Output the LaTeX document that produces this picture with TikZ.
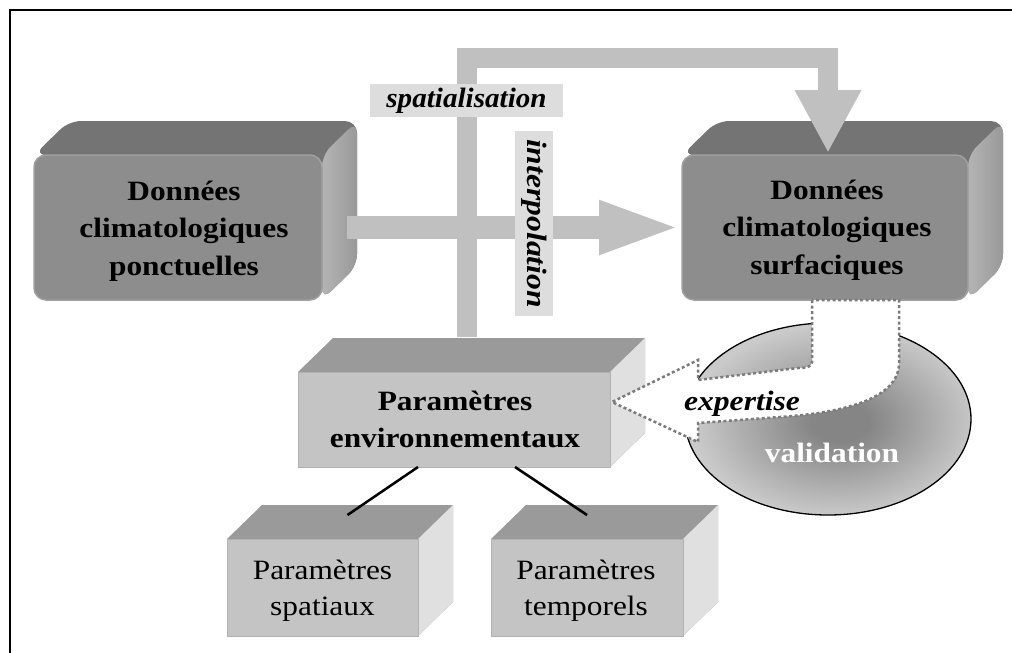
\documentclass[tikz,border=0pt]{standalone}
\usepackage{fontspec}
\usepackage{graphicx}
\setmainfont{Liberation Serif}
\usetikzlibrary{calc,arrows.meta,shapes.geometric,backgrounds}
\definecolor{darkfront}{HTML}{8D8D8D}
\definecolor{darktop}{HTML}{747474}
\definecolor{darkrighta}{HTML}{B4B4B4}
\definecolor{darkrightb}{HTML}{999999}
\definecolor{darkrim}{HTML}{A0A0A0}
\definecolor{lightfront}{HTML}{C4C4C4}
\definecolor{lighttop}{HTML}{9A9A9A}
\definecolor{lightright}{HTML}{E0E0E0}
\definecolor{lightrim}{HTML}{B2B2B2}
\definecolor{arrowgray}{HTML}{C0C0C0}
\definecolor{labelgray}{HTML}{DDDDDD}
\definecolor{dotgray}{HTML}{7C7C7C}
\definecolor{vdark}{HTML}{858585}
\definecolor{vlight}{HTML}{CACACA}
\pgfdeclareradialshading{valshade}{\pgfpoint{2.5bp}{-1bp}}{color(0bp)=(vdark); color(5bp)=(vdark); color(25bp)=(vlight); color(50bp)=(vlight)}
\newcommand\drawfaces[3]{%
  \path[#2] (#1.north west) -- ($(#1.north west)+(35,-34)$) -- ($(#1.north east)+(35,-34)$) -- ($(#1.south east)+(35,-34)$) -- (#1.south east) -- (#1.north east) -- cycle;
  \path[#3] (#1.north east) -- ($(#1.north east)+(35,-34)$) -- ($(#1.south east)+(35,-34)$) -- (#1.south east) -- cycle;
}
\begin{document}
\begin{tikzpicture}[x=1pt,y=-1pt,
  darkface/.style={rectangle, anchor=north west, inner sep=0pt, outer sep=0pt, fill=darkfront, draw=darkrim, line width=1.5pt, rounded corners=12pt},
  lightface/.style={rectangle, anchor=north west, inner sep=0pt, outer sep=0pt, fill=lightfront, draw=lightrim, line width=1pt},
  darktopst/.style={fill=darktop, rounded corners=12pt},
  darkrightst/.style={left color=darkrighta, right color=darkrightb, rounded corners=12pt},
  lighttopst/.style={fill=lighttop},
  lightrightst/.style={fill=lightright},
  boldtxt/.style={font=\fontsize{28}{37.5}\selectfont\bfseries, align=center, xscale=1.12, inner sep=0pt},
  regtxt/.style={font=\fontsize{28}{36}\selectfont, align=center, xscale=1.12, inner sep=0pt},
  itlabel/.style={font=\fontsize{28}{30}\selectfont\bfseries\itshape, inner sep=0pt},
  labelbox/.style={fill=labelgray, inner sep=0pt},
  bigarrow/.style={draw=arrowgray, line join=miter},
  conn/.style={line width=2.5pt, black},
  dotted arrow/.style={draw=dotgray, line width=2.5pt, dash pattern=on 3pt off 2.5pt},
  exparrow/.style={insert path={($(sur.south)+(-13,0)$) -- (812,362) .. controls (812,367) and (806,368) .. (798,368) -- (698,380) -- (698,360) -- ($(env.east)+(2,-17.5)$) -- (698,442) -- (698,423) -- (780,417) .. controls (840,413) and (899,400) .. (899,363) -- ($(sur.south)+(74,0)$) -- cycle}}
]
\useasboundingbox (0,0) rectangle (1012,653);
\draw[line width=2pt] (10,653) -- (10,10) -- (1012,10);

% front faces
\node[darkface, minimum width=288, minimum height=145] (pon) at (34,155) {};
\node[darkface, minimum width=286, minimum height=145] (sur) at (682,155) {};
\node[lightface, minimum width=312, minimum height=95] (env) at (298,372) {};
\node[lightface, minimum width=191, minimum height=97] (spa) at (227,539) {};
\node[lightface, minimum width=192, minimum height=97] (tem) at (491,539) {};

\begin{scope}[on background layer]
  \drawfaces{pon}{darktopst}{darkrightst}
  \drawfaces{sur}{darktopst}{darkrightst}
  \drawfaces{env}{lighttopst}{lightrightst}
  \drawfaces{spa}{lighttopst}{lightrightst}
  \drawfaces{tem}{lighttopst}{lightrightst}
\end{scope}

% texts
\node[boldtxt] (pontxt) at (184,231) {Données\\climatologiques\\ponctuelles};
\node[boldtxt] (surtxt) at (827,230) {Données\\climatologiques\\surfaciques};
\node[boldtxt] (envtxt) at (455,419.5) {Paramètres\\environnementaux};
\node[regtxt] (spatxt) at (322.5,591) {Paramètres\\spatiaux};
\node[regtxt] (temtxt) at (586,591) {Paramètres\\temporels};

% connectors
\draw[conn] ($(env.south)+(-36,0)$) -- ($(spa.north)+(25,-24)$);
\draw[conn] ($(env.south)+(61,0)$) -- ($(tem.north)+(0,-24)$);

% big arrows
\draw[bigarrow, line width=20pt, -{Triangle[length=63pt, width=62pt]}]
  ($(env.north)+(13,-35)$) |- ($(sur.north)+(3,-97)$) -- ($(sur.north)+(3,-2)$);
\draw[bigarrow, line width=23pt, -{Triangle[length=83pt, width=48pt]}]
  ($(pon.east)+(25,0)$) -- (sur.west);

% labels
\node[labelbox, itlabel, minimum width=193, minimum height=33] (spl) at (466.5,100.5) {\scalebox{1.04}[1]{spatialisation}};
\node[labelbox, itlabel, rotate=-90, minimum width=185, minimum height=38] (itp) at (534,223.5) {\scalebox{1.13}[1]{interpolation}};

% validation ellipse
\node[ellipse, draw=black, line width=1.3pt, shade, shading=valshade, minimum width=286, minimum height=192, inner sep=0pt] (val) at (828,419) {};
\node[boldtxt, text=white] (valtxt) at (832,452.5) {validation};

% expertise arrow
\fill[white, exparrow];
\begin{scope}
  \clip[exparrow];
  \node[itlabel, xscale=1.13] (exptxt) at (742,404) {expertise};
\end{scope}
\path[dotted arrow, exparrow];
\end{tikzpicture}
\end{document}
